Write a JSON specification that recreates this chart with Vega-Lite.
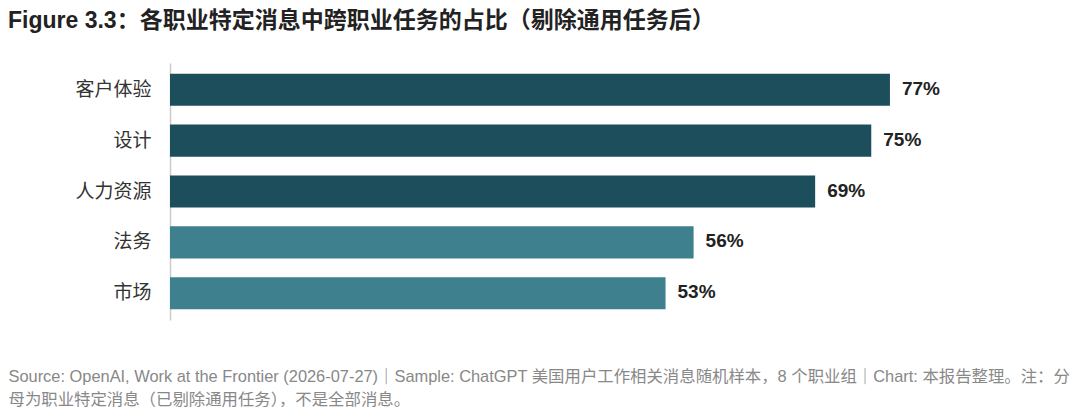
{
  "$schema": "https://vega.github.io/schema/vega-lite/v6.json",
  "width": 748,
  "height": 257,
  "autosize": {"type": "none"},
  "padding": {"left": 170, "top": 63, "right": 162, "bottom": 91},
  "background": "white",
  "title": {
    "text": "Figure 3.3：各职业特定消息中跨职业任务的占比（剔除通用任务后）",
    "anchor": "start",
    "frame": "group",
    "dx": -162,
    "offset": 30,
    "font": "Liberation Sans, Noto Sans CJK SC",
    "fontSize": 23,
    "fontWeight": "bold",
    "color": "#222222"
  },
  "data": {
    "values": [
      {"occupation": "客户体验", "share": 0.77, "tier": "high"},
      {"occupation": "设计", "share": 0.75, "tier": "high"},
      {"occupation": "人力资源", "share": 0.69, "tier": "high"},
      {"occupation": "法务", "share": 0.56, "tier": "low"},
      {"occupation": "市场", "share": 0.53, "tier": "low"}
    ]
  },
  "encoding": {
    "y": {
      "field": "occupation",
      "type": "nominal",
      "sort": null,
      "scale": {"paddingInner": 0.37, "paddingOuter": 0.21},
      "axis": {
        "title": null,
        "ticks": false,
        "domainColor": "#cccccc",
        "domainWidth": 1.5,
        "labelFont": "Noto Sans CJK SC",
        "labelFontSize": 19,
        "labelColor": "#333333",
        "labelPadding": 19
      }
    },
    "x": {
      "field": "share",
      "type": "quantitative",
      "scale": {"domain": [0, 0.8], "nice": false},
      "axis": {
        "domain": false,
        "ticks": false,
        "labels": false,
        "grid": false,
        "title": [
          "Source: OpenAI, Work at the Frontier (2026-07-27)｜Sample: ChatGPT 美国用户工作相关消息随机样本，8 个职业组｜Chart: 本报告整理。注：分",
          "母为职业特定消息（已剔除通用任务），不是全部消息。"
        ],
        "titleFont": "Liberation Sans, Noto Sans CJK SC",
        "titleFontSize": 16.4,
        "titleFontWeight": "normal",
        "titleColor": "#888888",
        "titleAnchor": "start",
        "titleAlign": "left",
        "titleBaseline": "alphabetic",
        "titleX": -162,
        "titleY": 61,
        "titleLineHeight": 23
      }
    }
  },
  "layer": [
    {
      "mark": {"type": "bar"},
      "encoding": {
        "color": {
          "field": "tier",
          "type": "nominal",
          "scale": {"domain": ["high", "low"], "range": ["#1c4e5c", "#3f808f"]},
          "legend": null
        }
      }
    },
    {
      "mark": {
        "type": "text",
        "align": "left",
        "dx": 12,
        "dy": -1,
        "font": "Liberation Sans",
        "fontSize": 19,
        "fontWeight": "bold",
        "color": "#222222"
      },
      "encoding": {
        "text": {"field": "share", "type": "quantitative", "format": ".0%"}
      }
    }
  ],
  "config": {
    "view": {"stroke": null}
  }
}
